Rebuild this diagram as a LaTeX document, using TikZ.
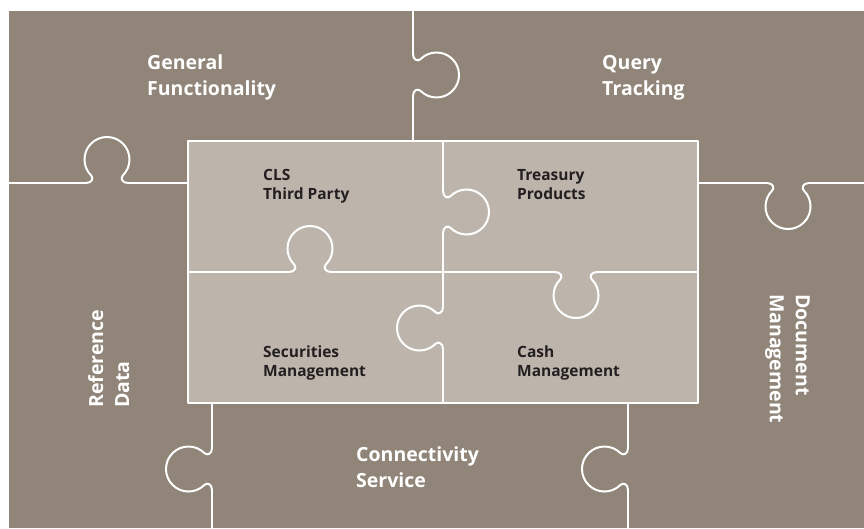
\documentclass[tikz,border=0pt]{standalone}
\usepackage{fontspec}
\setmainfont{Open Sans}
\definecolor{darkpc}{HTML}{908578}
\definecolor{lightpc}{HTML}{BDB5AC}
\definecolor{inktext}{HTML}{231F20}
\begin{document}
\begin{tikzpicture}[x=1pt,y=-1pt,
  divider/.style={draw=white,line width=2pt,line cap=round,line join=round},
  knob/.pic={\draw[divider] (-21,0) .. controls (-15,0) and (-13.1,4.8) .. (-15.9,7.6)
      arc[start angle=225,end angle=-45,radius=22.5]
      .. controls (13.1,4.8) and (15,0) .. (21,0);},
  outerlbl/.style={text=white,font=\fontsize{19.5}{26}\selectfont\bfseries,align=left,inner sep=0pt,anchor=north west},
  innerlbl/.style={text=inktext,font=\fontsize{15.5}{19}\selectfont\bfseries,align=left,inner sep=0pt,anchor=north west}]
\useasboundingbox (0,0) rectangle (864,528);
\fill[white] (0,0) rectangle (864,528);
\fill[darkpc] (9,11) rectangle (864,528);
\filldraw[fill=lightpc,divider] (188,141) rectangle (698,403);
% outer dividers
\draw[divider] (413,11) -- (413,54);
\pic[rotate=90] at (413,75) {knob};
\draw[divider] (413,96) -- (413,141);
\draw[divider] (9,183) -- (86,183);
\pic[rotate=180] at (107,183) {knob};
\draw[divider] (128,183) -- (188,183);
\draw[divider] (698,183) -- (767,183);
\pic[rotate=0] at (788,183) {knob};
\draw[divider] (809,183) -- (864,183);
\draw[divider] (212,403) -- (212,448);
\pic[rotate=-90] at (212,469) {knob};
\draw[divider] (212,490) -- (212,528);
\draw[divider] (628,403) -- (628,448);
\pic[rotate=-90] at (628,469) {knob};
\draw[divider] (628,490) -- (628,528);
% inner dividers
\draw[divider] (443,141) -- (443,191);
\pic[rotate=90] at (443,212) {knob};
\draw[divider] (443,233) -- (443,272);
\draw[divider] (443,272) -- (443,307);
\pic[rotate=-90] at (443,328) {knob};
\draw[divider] (443,349) -- (443,403);
\draw[divider] (188,272) -- (289,272);
\pic[rotate=180] at (310,272) {knob};
\draw[divider] (331,272) -- (443,272);
\draw[divider] (443,272) -- (555,272);
\pic[rotate=0] at (576,272) {knob};
\draw[divider] (597,272) -- (698,272);
% labels
\node[outerlbl] (gen) at (147,54) {General\\Functionality};
\node[outerlbl] (qry) at (602,55) {Query\\Tracking};
\node[outerlbl] (con) at (356,446) {Connectivity\\Service};
\node[outerlbl,rotate=90] (ref) at (88,408) {Reference\\Data};
\node[outerlbl,rotate=-90] (doc) at (810,294) {Document\\Management};
\node[innerlbl] (cls) at (263,169) {CLS\\Third Party};
\node[innerlbl] (tre) at (517,169) {Treasury\\Products};
\node[innerlbl] (sec) at (263,346) {Securities\\Management};
\node[innerlbl] (cash) at (517,346) {Cash\\Management};
\end{tikzpicture}
\end{document}
